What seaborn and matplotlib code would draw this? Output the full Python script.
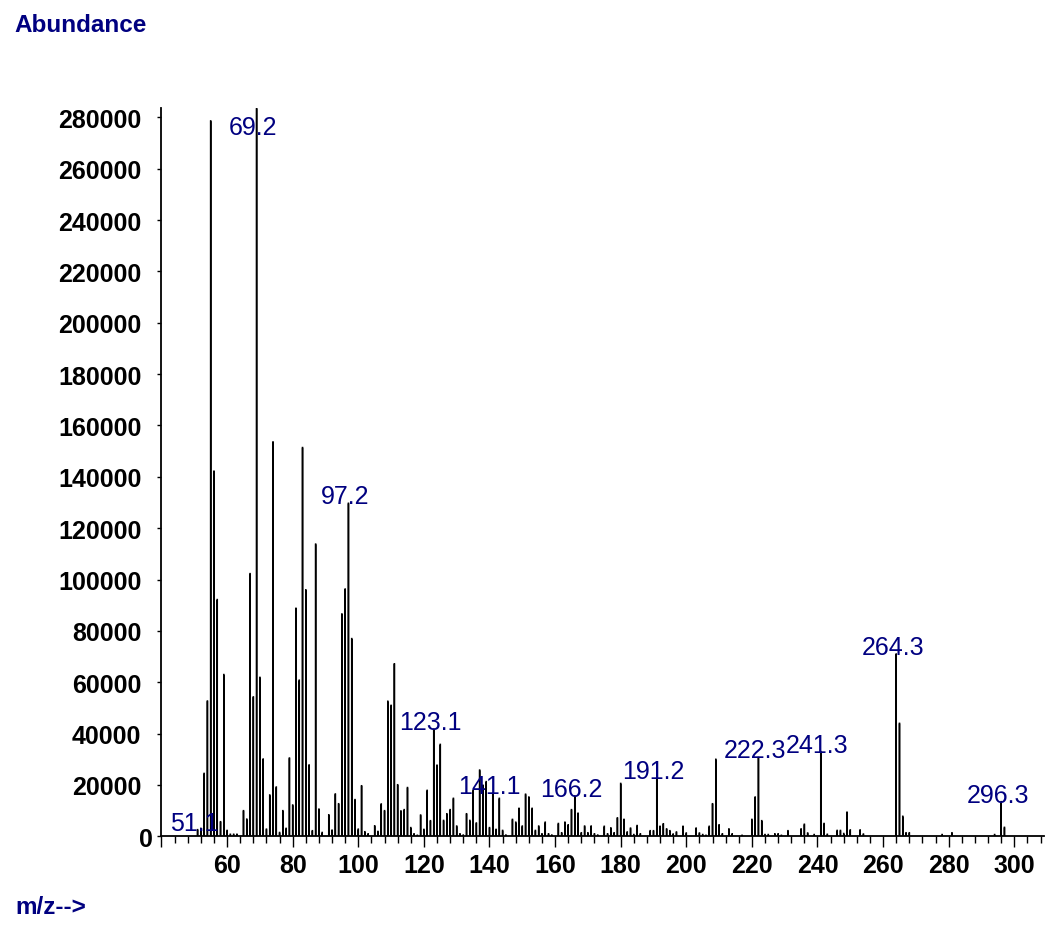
import matplotlib
matplotlib.use("Agg")
import matplotlib.pyplot as plt
import pandas as pd
import seaborn as sns
from matplotlib.ticker import FuncFormatter, MultipleLocator

# m/z values and their abundances
mz = [51, 52, 53, 54, 55, 56, 57, 58, 59, 60, 61, 62, 63, 65, 66, 67, 68, 69, 70,
      71, 72, 73, 74, 75, 76, 77, 78, 79, 80, 81, 82, 83, 84, 85, 86, 87, 88, 89,
      91, 92, 93, 94, 95, 96, 97, 98, 99, 100, 101, 102, 103, 105, 106, 107, 108,
      109, 110, 111, 112, 113, 114, 115, 116, 117, 118, 119, 120, 121, 122, 123,
      124, 125, 126, 127, 128, 129, 130, 131, 132, 133, 134, 135, 136, 137, 138,
      139, 140, 141, 142, 143, 144, 145, 147, 148, 149, 150, 151, 152, 153, 154,
      155, 156, 157, 158, 159, 161, 162, 163, 164, 165, 166, 167, 168, 169, 170,
      171, 172, 173, 175, 176, 177, 178, 179, 180, 181, 182, 183, 184, 185, 186,
      189, 190, 191, 192, 193, 194, 195, 196, 197, 199, 200, 203, 204, 205, 206,
      207, 208, 209, 210, 211, 213, 214, 217, 220, 221, 222, 223, 224, 225, 227,
      228, 229, 231, 235, 236, 237, 239, 241, 242, 243, 246, 247, 248, 249, 250,
      253, 254, 264, 265, 266, 267, 268, 278, 281, 294, 296, 297]
abundance = [2600, 3100, 24500, 52700, 278600, 142200, 92200, 5700, 63000, 2300,
             800, 800, 800, 10000, 6700, 102300, 54300, 283500, 61900,
             30100, 2800, 16100, 153600, 19200, 1500, 10000, 3100, 30500, 12200,
             88800, 60800, 151400, 96000, 27800, 2200, 113800, 10600, 1500,
             8400, 2400, 16500, 12700, 86600, 96300, 129700, 77000, 14300, 2800,
             19700, 1800, 1000, 4100, 1900, 12600, 10000,
             52600, 51000, 67200, 20100, 9900, 10400, 19000, 3400, 1000, 400,
             8300, 2700, 17900, 6100, 41700,
             27700, 35800, 6200, 8800, 10400, 14800, 4000, 1000, 500, 8800,
             6200, 17900, 5200, 25800, 19900,
             21300, 3400, 16700, 2700, 14800, 2300, 500, 6600, 5500, 10900,
             4000, 16400, 15300, 10900, 2300,
             4000, 1000, 5500, 1000, 500, 5000, 1400, 5500, 4500, 10400, 15700,
             9000, 1400, 4000, 1400,
             4000, 1000, 500, 3900, 1000, 3300, 1400, 7200, 20600, 6600, 1700,
             3200, 700, 4200, 1000,
             2200, 2200, 22800, 3900, 4900, 2900, 2200, 900, 1700, 3900, 1300,
             3200, 1300, 700, 400,
             3900, 12700, 30000, 4500, 1000, 2900, 1000, 400, 6600, 15300, 30700,
             6100, 700, 700, 1000,
             1000, 400, 2200, 2900, 4700, 1300, 700, 33000, 5000, 800, 2300,
             2300, 1100, 9400, 2500,
             2500, 900, 71000, 44000, 7800, 1400, 1400, 700, 1400, 700, 13500, 3500]

# annotated peaks
label_mz = [51, 69, 97, 123, 141, 166, 191, 222, 241, 264, 296]
label_text = ["51.1", "69.2", "97.2", "123.1", "141.1", "166.2", "191.2",
              "222.3", "241.3", "264.3", "296.3"]

NAVY = "#000080"
XMIN, XMAX = 40, 309
YMAX = 283500

sns.set_theme(style="ticks")
plt.rcParams["font.family"] = ["Liberation Sans", "DejaVu Sans"]
plt.rcParams["font.weight"] = "bold"
plt.rcParams["axes.edgecolor"] = "black"
plt.rcParams["xtick.color"] = "black"
plt.rcParams["ytick.color"] = "black"
plt.rcParams["text.color"] = "black"

df = pd.DataFrame({"mz": mz, "abundance": abundance})

fig = plt.figure(figsize=(10.5, 9.28), dpi=100)
ax = fig.add_axes([0.1538, 0.0977, 0.8403, 0.7845])

sns.barplot(data=df, x="mz", y="abundance", native_scale=True, width=0.02,
            color="black", edgecolor="black", linewidth=1.1, saturation=1,
            errorbar=None, ax=ax)
for bar in ax.patches:
    bar.set_snap(False)

ax.set_xlim(XMIN, XMAX)
ax.set_ylim(0, YMAX)
ax.set_xlabel("")
ax.set_ylabel("")
sns.despine(ax=ax)
for side in ["left", "bottom"]:
    ax.spines[side].set_linewidth(1.3)

ax.xaxis.set_major_locator(MultipleLocator(20))
ax.xaxis.set_minor_locator(MultipleLocator(4))
ax.yaxis.set_major_locator(MultipleLocator(20000))
ax.xaxis.set_major_formatter(FuncFormatter(lambda v, p: "" if v < 60 else f"{v:.0f}"))
# the zero label sits a bit further right, drawn separately below
ax.yaxis.set_major_formatter(FuncFormatter(lambda v, p: "" if v == 0 else f"{v:.0f}"))

ax.tick_params(axis="x", which="major", length=7.9, width=1.0, pad=4, labelsize=18)
ax.tick_params(axis="x", which="minor", length=4.8, width=1.0)
ax.tick_params(axis="y", which="major", length=3, width=1.0, pad=11.4, labelsize=18)

ax.annotate("0", xy=(0, 0), xycoords=("axes fraction", "data"),
            xytext=(-6.1, 0), textcoords="offset points",
            ha="right", va="center_baseline", fontsize=18, fontweight="bold")

peak_height = dict(zip(mz, abundance))
for m, txt in zip(label_mz, label_text):
    h = peak_height[m]
    dy = -18.3 if h > 0.95 * YMAX else 0
    ax.annotate(txt, xy=(m, h), xytext=(-2.5, dy), textcoords="offset points",
                ha="center", va="baseline", color=NAVY, fontsize=18,
                fontweight="normal", annotation_clip=False)

fig.text(14 / 1050, 1 - 31.5 / 928, "Abundance", color=NAVY, fontsize=17.5,
         fontweight="bold", ha="left", va="baseline")
fig.text(15 / 1050, 1 - 914 / 928, "m/z-->", color=NAVY, fontsize=17.5,
         fontweight="bold", ha="left", va="baseline")

fig.savefig("out.png", dpi=100)
